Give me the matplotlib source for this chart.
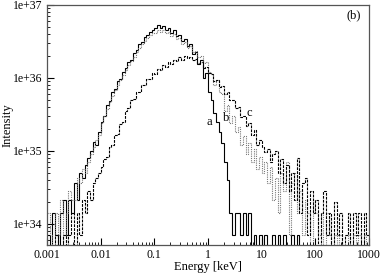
import numpy as np
import matplotlib
matplotlib.use("Agg")
import matplotlib.pyplot as plt
from matplotlib.ticker import FuncFormatter, LogLocator, FixedLocator

plt.rcParams['font.family'] = ['Liberation Serif', 'DejaVu Serif']

# histogram bins: 20 per decade from 1 eV to 1 MeV
edges = np.logspace(-3, 3, 121)

# log10(intensity) per bin, 0 = empty bin
log_a = [33.85, 0, 34.15, 33.85, 0, 34.15, 34.33, 33.85, 34.33, 34.15,
         34.55, 34.33, 34.70, 34.63, 34.80, 34.90, 35.00, 35.12, 35.08, 35.25,
         35.40, 35.47, 35.62, 35.68, 35.80, 35.84, 35.95, 35.99, 36.08, 36.13,
         36.22, 36.25, 36.34, 36.38, 36.46, 36.49, 36.56, 36.59, 36.63, 36.66,
         36.68, 36.72, 36.69, 36.71, 36.66, 36.68, 36.62, 36.65, 36.57, 36.59,
         36.50, 36.53, 36.43, 36.46, 36.33, 36.36, 36.19, 36.24, 36.00, 36.06,
         35.80, 35.70, 35.52, 35.40, 35.25, 35.10, 34.85, 34.60, 34.15, 33.85,
         34.15, 34.15, 33.85, 34.15, 33.85, 34.15, 0, 33.85, 0, 33.85,
         0, 33.85, 0, 0, 33.85, 0, 33.85, 0, 33.85, 0,
         0, 33.85, 0, 33.85, 0, 0, 0, 0, 0, 0,
         0, 0, 0, 0, 0, 0, 0, 0, 0, 0,
         0, 0, 0, 0, 0, 0, 0, 0, 0, 0]

log_b = [34.15, 33.85, 0, 34.15, 33.85, 34.33, 0, 34.15, 34.45, 34.33,
         34.33, 34.63, 34.55, 34.75, 34.70, 34.85, 34.95, 35.05, 35.15, 35.22,
         35.38, 35.48, 35.57, 35.67, 35.75, 35.83, 35.90, 35.97, 36.04, 36.11,
         36.17, 36.23, 36.29, 36.35, 36.41, 36.46, 36.51, 36.55, 36.59, 36.62,
         36.62, 36.66, 36.63, 36.66, 36.61, 36.63, 36.57, 36.60, 36.53, 36.54,
         36.47, 36.49, 36.41, 36.43, 36.35, 36.37, 36.28, 36.30, 36.20, 36.21,
         36.08, 36.05, 35.90, 35.97, 35.80, 35.78, 35.55, 35.62, 35.38, 35.47,
         35.25, 35.32, 35.08, 35.20, 34.95, 35.10, 34.85, 35.02, 34.75, 34.92,
         34.70, 34.85, 34.55, 34.78, 34.33, 34.63, 34.15, 34.70, 34.45, 34.84,
         33.85, 34.55, 34.70, 34.15, 34.45, 33.85, 34.33, 34.15, 0, 34.33,
         34.15, 33.85, 34.15, 0, 34.15, 33.85, 0, 33.85, 0, 33.85,
         0, 0, 33.85, 0, 33.85, 0, 33.85, 0, 33.85, 0]

log_c = [0, 0, 0, 33.85, 0, 0, 33.85, 0, 33.85, 34.15,
         0, 34.15, 33.85, 34.33, 34.15, 34.45, 34.33, 34.55, 34.63, 34.70,
         34.78, 34.88, 34.92, 35.05, 35.08, 35.21, 35.23, 35.36, 35.40, 35.55,
         35.58, 35.69, 35.71, 35.80, 35.81, 35.90, 35.90, 35.98, 35.98, 36.06,
         36.05, 36.12, 36.11, 36.17, 36.15, 36.21, 36.19, 36.25, 36.23, 36.28,
         36.25, 36.30, 36.27, 36.29, 36.24, 36.26, 36.20, 36.21, 36.14, 36.15,
         36.06, 36.05, 35.96, 35.97, 35.88, 35.89, 35.78, 35.80, 35.69, 35.70,
         35.58, 35.60, 35.46, 35.48, 35.34, 35.38, 35.22, 35.28, 35.08, 35.14,
         35.05, 34.98, 35.02, 34.85, 34.95, 35.00, 34.70, 34.88, 34.55, 34.80,
         34.45, 34.70, 34.33, 34.90, 34.15, 34.55, 34.63, 33.85, 34.45, 34.15,
         34.33, 0, 34.15, 34.45, 33.85, 34.15, 0, 34.30, 33.85, 34.15,
         0, 33.85, 34.15, 0, 34.15, 33.85, 34.15, 0, 34.15, 33.85]


def to_intensity(logs):
    v = np.array(logs, dtype=float)
    return np.where(v > 0, 10.0 ** v, 1e33)


fig = plt.figure(figsize=(3.82, 2.73), dpi=100)
ax = fig.add_axes([0.123, 0.103, 0.843, 0.879])

ax.stairs(to_intensity(log_a), edges, baseline=None, color="black", lw=0.8)
ax.stairs(to_intensity(log_b), edges, baseline=None, color="#777777", lw=0.8, linestyle=(0, (1, 1)))
ax.stairs(to_intensity(log_c), edges, baseline=None, color="black", lw=0.8, linestyle=(0, (2.5, 1)))

ax.set_xscale("log")
ax.set_yscale("log")
ax.set_xlim(1e-3, 1e3)
ax.set_ylim(5.1e33, 1e37)

ax.xaxis.set_major_locator(FixedLocator([1e-3, 1e-2, 1e-1, 1, 10, 100, 1000]))
ax.xaxis.set_major_formatter(FuncFormatter(lambda v, p: "%g" % v))
ax.xaxis.set_minor_locator(LogLocator(base=10, subs=np.arange(2, 10), numticks=20))
ax.yaxis.set_major_locator(FixedLocator([1e34, 1e35, 1e36, 1e37]))
ax.yaxis.set_major_formatter(FuncFormatter(lambda v, p: "1e+%d" % round(np.log10(v))))
ax.yaxis.set_minor_locator(LogLocator(base=10, subs=np.arange(2, 10), numticks=20))

ax.tick_params(which="both", direction="in", top=False, right=False, labelsize=8.5, colors="black")
ax.tick_params(which="major", length=5, width=0.8, pad=3)
ax.tick_params(which="minor", length=2.5, width=0.6)
for s in ax.spines.values():
    s.set_color("#555555")
    s.set_linewidth(0.9)

ax.set_xlabel("Energy [keV]", fontsize=9, labelpad=0)
ax.set_ylabel("Intensity", fontsize=9, labelpad=0)

ax.text(1.05, 10 ** 35.40, "a", fontsize=9, ha="center", va="center")
ax.text(2.15, 10 ** 35.45, "b", fontsize=9, ha="center", va="center")
ax.text(5.9, 10 ** 35.52, "c", fontsize=9, ha="center", va="center")
ax.text(0.975, 0.955, "(b)", transform=ax.transAxes, fontsize=9, ha="right", va="center")

fig.savefig("out.png", dpi=100)
